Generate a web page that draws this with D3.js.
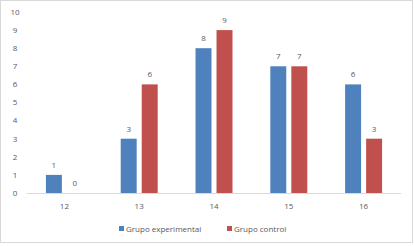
<!DOCTYPE html>
<html>
<head>
<meta charset="utf-8">
<script src="https://cdn.jsdelivr.net/npm/d3@7"></script>
<style>
  body { margin: 0; background: #fff; }
  text { font-family: "Open Sans", "DejaVu Sans", sans-serif; fill: #595959; }
</style>
</head>
<body>
<div id="chart"></div>
<script>
const categories = ["12", "13", "14", "15", "16"];
const seriesNames = ["Grupo experimental", "Grupo control"];
const experimental = [1, 3, 8, 7, 6];
const control = [0, 6, 9, 7, 3];
const yTicks = [0, 1, 2, 3, 4, 5, 6, 7, 8, 9, 10];
const colors = ["#4f81bd", "#c0504d"];

const width = 414, height = 246;
const margin = { top: 12, right: 13, bottom: 53, left: 27 };

const svg = d3.select("#chart").append("svg")
  .attr("width", width)
  .attr("height", height);

// borde del gráfico
svg.append("rect")
  .attr("x", 0.5).attr("y", 0.5)
  .attr("width", width - 2).attr("height", height - 4)
  .attr("fill", "none")
  .attr("stroke", "#d9d9d9");

const x = d3.scaleBand()
  .domain(categories)
  .range([margin.left, width - margin.right]);

const inner = d3.scaleBand()
  .domain(seriesNames)
  .range([0, x.bandwidth()])
  .paddingOuter(0.9)
  .paddingInner(0.24);

const y = d3.scaleLinear()
  .domain([0, 10])
  .range([height - margin.bottom, margin.top]);

// eje y (solo etiquetas)
svg.append("g")
  .selectAll("text")
  .data(yTicks)
  .enter()
  .append("text")
  .attr("x", 15)
  .attr("y", d => y(d))
  .attr("dy", "0.35em")
  .attr("text-anchor", "middle")
  .attr("font-size", "8px")
  .text(d => d);

// línea base
svg.append("line")
  .attr("x1", margin.left).attr("x2", width - margin.right)
  .attr("y1", y(0) + 0.5).attr("y2", y(0) + 0.5)
  .attr("stroke", "#d9d9d9");

// etiquetas del eje x
svg.append("g")
  .selectAll("text")
  .data(categories)
  .enter()
  .append("text")
  .attr("x", d => x(d) + x.bandwidth() / 2)
  .attr("y", y(0) + 16)
  .attr("text-anchor", "middle")
  .attr("font-size", "8px")
  .text(d => d);

const rows = categories.map((c, i) => ({
  category: c,
  values: [experimental[i], control[i]]
}));

const groups = svg.append("g")
  .selectAll("g")
  .data(rows)
  .enter()
  .append("g")
  .attr("transform", d => `translate(${x(d.category)},0)`);

groups.selectAll("rect")
  .data(d => d.values.map((v, i) => ({ name: seriesNames[i], value: v, i })))
  .enter()
  .append("rect")
  .attr("x", d => inner(d.name))
  .attr("y", d => y(d.value))
  .attr("width", inner.bandwidth())
  .attr("height", d => y(0) - y(d.value))
  .attr("fill", d => colors[d.i]);

// etiquetas de datos
groups.selectAll("text")
  .data(d => d.values.map((v, i) => ({ name: seriesNames[i], value: v })))
  .enter()
  .append("text")
  .attr("x", d => inner(d.name) + inner.bandwidth() / 2)
  .attr("y", d => y(d.value) - 7)
  .attr("text-anchor", "middle")
  .attr("font-size", "8px")
  .text(d => d.value);

// leyenda
const legend = svg.append("g")
  .attr("transform", `translate(119, 229)`);

const legendOffsets = [0, 108];
seriesNames.forEach((name, i) => {
  legend.append("rect")
    .attr("x", legendOffsets[i])
    .attr("y", -3)
    .attr("width", 5)
    .attr("height", 5)
    .attr("fill", colors[i]);
  legend.append("text")
    .attr("x", legendOffsets[i] + 7)
    .attr("y", 0)
    .attr("dy", "0.35em")
    .attr("font-size", "8px")
    .text(name);
});
</script>
</body>
</html>
